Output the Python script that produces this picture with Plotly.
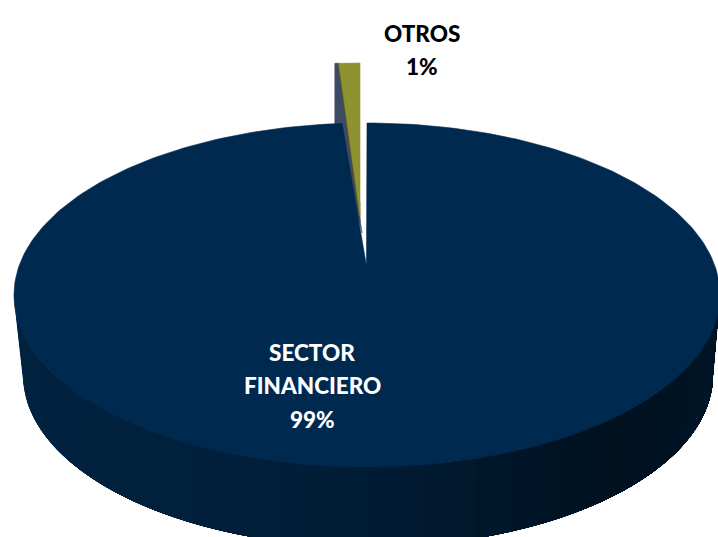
import numpy as np
import plotly.graph_objects as go

# Data
categories = ["SECTOR FINANCIERO", "OTROS"]
shares = [99, 1]
label_lines = [["SECTOR", "FINANCIERO", "99%"], ["OTROS", "1%"]]

# Colours
top_color = "#00294F"
olive = "#8E9230"
olive_dark = "#4A4C1C"
cut_color = "#3D4A66"
side_stops = [(0.0, (1, 36, 66)), (0.45, (1, 30, 56)), (0.75, (0, 17, 32)), (1.0, (0, 22, 40))]

# Pie geometry, in page pixels (axes run 0-718 / 537-0)
cx, cy, rx, ry = 367, 295, 353, 172
cx2, cy2, rx2, ry2 = 368, 375, 345, 172
apex = (366.5, 266)
gap = 0.45
slice_rim_shift = (-7, -60)
slice_tip_shift = (-6.5, -47)


def rim(deg, x0=cx, y0=cy, a=rx, b=ry):
    t = np.radians(deg)
    return x0 + a * np.sin(t), y0 - b * np.cos(t)


def polygon(fig, xs, ys, color, width=0.6):
    fig.add_trace(go.Scatter(x=list(xs), y=list(ys), mode="lines", fill="toself",
                             fillcolor=color, line=dict(color=color, width=width),
                             hoverinfo="skip", showlegend=False))


def side_shade(f):
    for (f0, c0), (f1, c1) in zip(side_stops, side_stops[1:]):
        if f <= f1:
            k = (f - f0) / (f1 - f0)
            r, g, b = [round(p + (q - p) * k) for p, q in zip(c0, c1)]
            return "rgb(%d,%d,%d)" % (r, g, b)
    return "rgb(%d,%d,%d)" % side_stops[-1][1]


fig = go.Figure()

# side wall: every band runs on to the right end and the next one paints over it,
# that way no seams show between the bands
edges = np.linspace(270, 90, 61)
for i in range(len(edges) - 1):
    arc = np.linspace(edges[i], 90, 120)
    tx0, ty0 = rim(arc)
    bx0, by0 = rim(arc, cx2, cy2, rx2, ry2)
    polygon(fig, [*tx0, *bx0[::-1], tx0[0]], [*ty0, *by0[::-1], ty0[0]], side_shade(i / 59), width=0)

# exploded slice
small_deg = shares[1] / sum(shares) * 360
lx, ly = rim(-small_deg)
rx_, ry_ = rim(0)
lx, ly = lx + slice_rim_shift[0], ly + slice_rim_shift[1]
rx_, ry_ = rx_ + slice_rim_shift[0], ry_ + slice_rim_shift[1]
tx, ty = apex[0] + slice_tip_shift[0], apex[1] + slice_tip_shift[1]

polygon(fig, [lx - 3, lx, tx + 2, lx - 3, lx - 3], [ly, ly, ty + 14, ly + 60, ly], cut_color)
polygon(fig, [lx, lx + 2, tx, tx, lx], [ly, ly, ty - 15, ty + 3, ly], olive_dark)
polygon(fig, [lx + 1, rx_, tx, lx + 1], [ly, ry_, ty - 3, ly], olive)

# big slice top
big_deg = shares[0] / sum(shares) * 360 - gap
angles = np.linspace(0, big_deg, 300)
bx, by = rim(angles)
polygon(fig, [apex[0], *bx, apex[0]], [apex[1], *by, apex[1]], top_color)


def add_label(lines, x, first_y, color):
    for n, line in enumerate(lines):
        fig.add_annotation(x=x, y=first_y + n * 33.5, text=line, showarrow=False,
                           font=dict(family="Lato", size=22.5, color=color, weight=900))


add_label(label_lines[0], 312, 352, "white")
add_label(label_lines[1], 422, 33, "black")

fig.update_xaxes(range=[0, 718], visible=False, fixedrange=True)
fig.update_yaxes(range=[537, 0], visible=False, fixedrange=True)
fig.update_layout(width=718, height=537, margin=dict(l=0, r=0, t=0, b=0),
                  paper_bgcolor="white", plot_bgcolor="white", showlegend=False)

fig.write_html("out.html", config=dict(displayModeBar=False),
               post_script="document.body.style.margin='0';document.documentElement.style.overflow='hidden';")
